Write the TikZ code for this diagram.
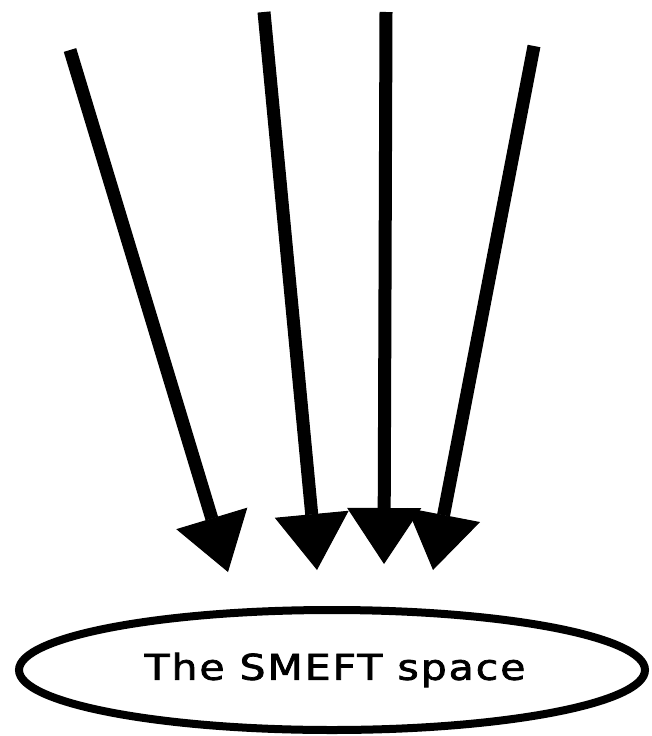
\documentclass[tikz,border=0pt]{standalone}
\usepackage{fontspec}
\newfontfamily\labelfont[LetterSpace=5,FakeBold=2]{DejaVu Sans}
\usetikzlibrary{arrows.meta,shapes.geometric}
\begin{document}
\begin{tikzpicture}[x=1pt,y=-1pt,
  chalk/.style={line width=13pt, draw=black,
    -{Triangle[length=56pt,width=74pt,line width=1pt]}},
  spaceoval/.style={ellipse, draw=black, line width=8pt, minimum width=626pt, minimum height=120pt, inner sep=0pt,
    font=\labelfont\fontsize{35.5}{40}\selectfont}]
\useasboundingbox (0,0) rectangle (651,736);
\coordinate (s1) at (70,50);
\coordinate (s2) at (264,12);
\coordinate (s3) at (386,12);
\coordinate (s4) at (534,46);
\coordinate (t1) at (228,572);
\coordinate (t2) at (317,570);
\coordinate (t3) at (384,564);
\coordinate (t4) at (433,570);
\node[spaceoval] (space) at (332,670) {\hspace*{6pt}\scalebox{1.15}[1]{The SMEFT space}};
\draw[chalk] (s1) -- (t1);
\draw[chalk] (s2) -- (t2);
\draw[chalk] (s3) -- (t3);
\draw[chalk] (s4) -- (t4);
\end{tikzpicture}
\end{document}
